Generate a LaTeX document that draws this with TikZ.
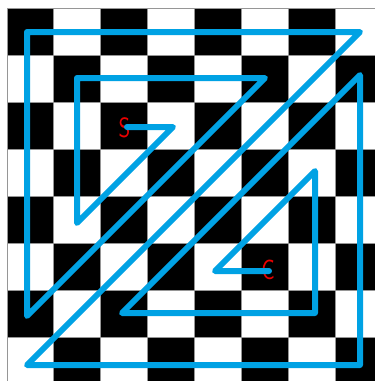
\documentclass[tikz,border=0pt]{standalone}
\usepackage{graphicx}
\definecolor{pathblue}{RGB}{0,162,228}
\definecolor{gridgray}{RGB}{150,150,150}
\definecolor{lblred}{RGB}{235,0,0}
\tikzset{
  sq/.style={fill=black, draw=none},
  gridline/.style={draw=gridgray, line width=0.8pt},
  route/.style={draw=pathblue, line width=6pt, line cap=round, line join=round},
  lbl/.style={text=lblred, font=\sffamily\fontsize{28}{28}\selectfont, inner sep=0pt}
}
\begin{document}
\begin{tikzpicture}[x=1pt,y=-1pt]
\useasboundingbox (0,0) rectangle (375,381);
\fill[white] (0,0) rectangle (375,381);
\begin{scope}
\clip (0,0) rectangle (375,381);
% checkerboard
\foreach \i in {0,...,7}{
  \foreach \j in {0,...,7}{
    \pgfmathtruncatemacro{\parity}{mod(\i+\j,2)}
    \ifnum\parity=0
      \fill[sq] ({7+46.86*\i},{8+47*\j}) rectangle ({7+46.86*(\i+1)},{8+47*(\j+1)});
    \fi
  }
}
\foreach \i in {0,...,8}{
  \draw[gridline] ({7+46.86*\i},8) -- ({7+46.86*\i},390);
  \draw[gridline] (7,{8+47*\i}) -- (390,{8+47*\i});
}
\end{scope}
% labels
\node[lbl] (S) at (124.5,128) {\scalebox{0.8}[1]{S}};
\node[lbl] (C) at (268,269.5) {\scalebox{0.8}[1]{C}};
% path points
\coordinate (p0) at (127,127);
\coordinate (p1) at (173,127);
\coordinate (p2) at (77,223);
\coordinate (p3) at (77,78);
\coordinate (p4) at (265,78);
\coordinate (p5) at (27,316);
\coordinate (p6) at (27,32);
\coordinate (p7) at (360,32);
\coordinate (p8) at (27,365);
\coordinate (p9) at (360,365);
\coordinate (p10) at (360,75);
\coordinate (p11) at (122,313);
\coordinate (p12) at (315,313);
\coordinate (p13) at (315,171);
\coordinate (p14) at (215,271);
\coordinate (p15) at (269,271);
\draw[route] (p0) -- (p1) -- (p2) -- (p3) -- (p4) -- (p5) -- (p6) -- (p7) -- (p8) -- (p9) -- (p10) -- (p11) -- (p12) -- (p13) -- (p14) -- (p15);
\end{tikzpicture}
\end{document}
